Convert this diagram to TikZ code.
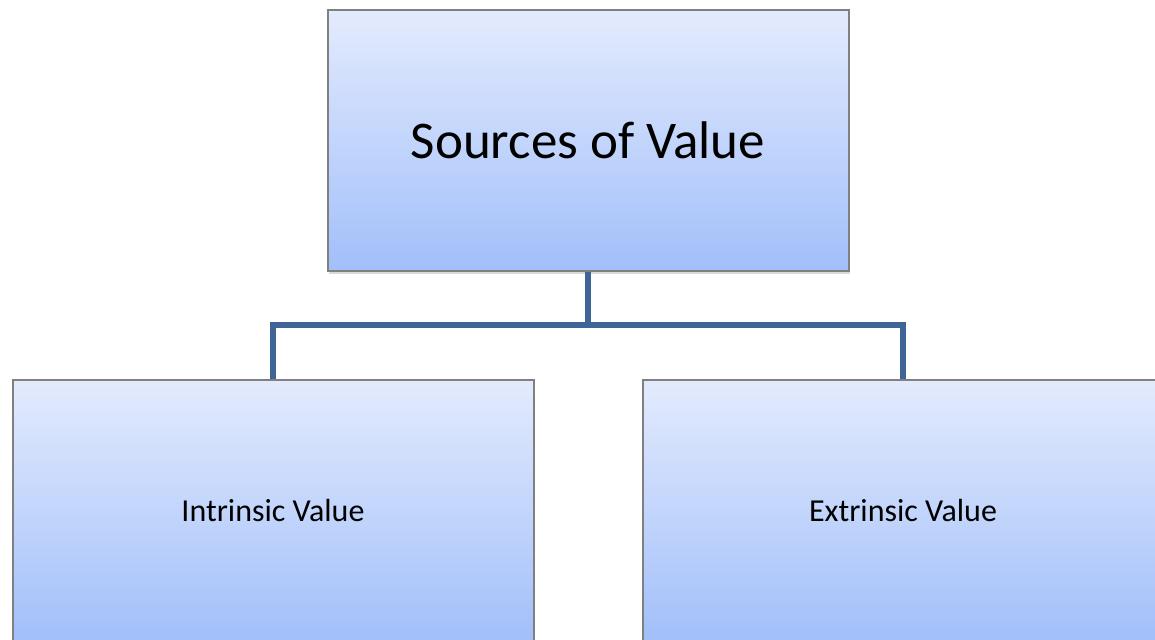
\documentclass[tikz,border=0pt]{standalone}
\usepackage{fontspec}
\setmainfont{Carlito}
\usetikzlibrary{shadows}
\definecolor{boxtop}{RGB}{227,235,253}
\definecolor{boxbot}{RGB}{162,191,250}
\definecolor{boxedge}{RGB}{128,128,128}
\definecolor{linkc}{RGB}{62,101,150}
\begin{document}
\begin{tikzpicture}[x=1pt,y=-1pt,
  valbox/.style={draw=boxedge,line width=2pt,top color=boxtop,bottom color=boxbot,
    minimum width=521pt,minimum height=261pt,inner sep=0pt,
    drop shadow={opacity=0.3,shadow xshift=1.5pt,shadow yshift=-2.5pt}},
  link/.style={draw=linkc,line width=5.5pt}]
\useasboundingbox (0,0) rectangle (1155,639);
\clip (0,0) rectangle (1155,639);
\node[valbox,font=\fontsize{53}{62}\selectfont] (src) at (588,140.5) {Sources of Value};
\node[valbox,font=\fontsize{32}{38}\selectfont] (intr) at (273,510.5) {Intrinsic Value};
\node[valbox,font=\fontsize{32}{38}\selectfont] (extr) at (903,510.5) {Extrinsic Value};
\coordinate (hub) at (588,325);
\draw[link] (src.south) -- (hub);
\draw[link,line join=miter] (intr.north) |- (hub) -| (extr.north);
\end{tikzpicture}
\end{document}
